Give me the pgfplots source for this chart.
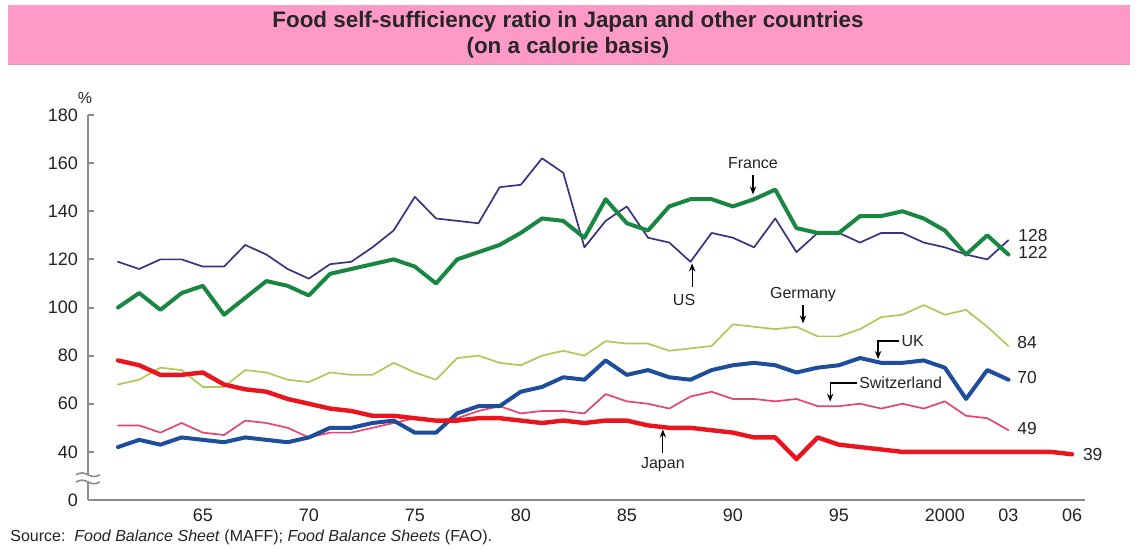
\documentclass[border=0pt]{standalone}
\usepackage{fontspec}
\setmainfont{Liberation Sans}
\usepackage{pgfplots}
\pgfplotsset{compat=1.18}
\usetikzlibrary{arrows.meta}

\definecolor{band}{RGB}{255,153,200}
\definecolor{bandedge}{RGB}{225,150,190}
\definecolor{axisgray}{RGB}{140,140,140}
\definecolor{labgray}{RGB}{35,35,35}
\definecolor{usc}{RGB}{60,50,130}
\definecolor{frc}{RGB}{25,135,65}
\definecolor{dec}{RGB}{172,202,88}
\definecolor{ukc}{RGB}{30,78,155}
\definecolor{chc}{RGB}{228,70,112}
\definecolor{jpc}{RGB}{235,20,30}

% Self-sufficiency ratios (%), calorie basis
\pgfplotstableread{
year val
1961 119
1962 116
1963 120
1964 120
1965 117
1966 117
1967 126
1968 122
1969 116
1970 112
1971 118
1972 119
1973 125
1974 132
1975 146
1976 137
1977 136
1978 135
1979 150
1980 151
1981 162
1982 156
1983 125
1984 136
1985 142
1986 129
1987 127
1988 119
1989 131
1990 129
1991 125
1992 137
1993 123
1994 131
1995 131
1996 127
1997 131
1998 131
1999 127
2000 125
2001 122
2002 120
2003 128
}\usdata

\pgfplotstableread{
year val
1961 100
1962 106
1963 99
1964 106
1965 109
1966 97
1967 104
1968 111
1969 109
1970 105
1971 114
1972 116
1973 118
1974 120
1975 117
1976 110
1977 120
1978 123
1979 126
1980 131
1981 137
1982 136
1983 129
1984 145
1985 135
1986 132
1987 142
1988 145
1989 145
1990 142
1991 145
1992 149
1993 133
1994 131
1995 131
1996 138
1997 138
1998 140
1999 137
2000 132
2001 122
2002 130
2003 122
}\frdata

\pgfplotstableread{
year val
1961 68
1962 70
1963 75
1964 74
1965 67
1966 67
1967 74
1968 73
1969 70
1970 69
1971 73
1972 72
1973 72
1974 77
1975 73
1976 70
1977 79
1978 80
1979 77
1980 76
1981 80
1982 82
1983 80
1984 86
1985 85
1986 85
1987 82
1988 83
1989 84
1990 93
1991 92
1992 91
1993 92
1994 88
1995 88
1996 91
1997 96
1998 97
1999 101
2000 97
2001 99
2002 92
2003 84
}\dedata

\pgfplotstableread{
year val
1961 42
1962 45
1963 43
1964 46
1965 45
1966 44
1967 46
1968 45
1969 44
1970 46
1971 50
1972 50
1973 52
1974 53
1975 48
1976 48
1977 56
1978 59
1979 59
1980 65
1981 67
1982 71
1983 70
1984 78
1985 72
1986 74
1987 71
1988 70
1989 74
1990 76
1991 77
1992 76
1993 73
1994 75
1995 76
1996 79
1997 77
1998 77
1999 78
2000 75
2001 62
2002 74
2003 70
}\ukdata

\pgfplotstableread{
year val
1961 51
1962 51
1963 48
1964 52
1965 48
1966 47
1967 53
1968 52
1969 50
1970 46
1971 48
1972 48
1973 50
1974 52
1975 54
1976 53
1977 54
1978 57
1979 59
1980 56
1981 57
1982 57
1983 56
1984 64
1985 61
1986 60
1987 58
1988 63
1989 65
1990 62
1991 62
1992 61
1993 62
1994 59
1995 59
1996 60
1997 58
1998 60
1999 58
2000 61
2001 55
2002 54
2003 49
}\chdata

\pgfplotstableread{
year val
1961 78
1962 76
1963 72
1964 72
1965 73
1966 68
1967 66
1968 65
1969 62
1970 60
1971 58
1972 57
1973 55
1974 55
1975 54
1976 53
1977 53
1978 54
1979 54
1980 53
1981 52
1982 53
1983 52
1984 53
1985 53
1986 51
1987 50
1988 50
1989 49
1990 48
1991 46
1992 46
1993 37
1994 46
1995 43
1996 42
1997 41
1998 40
1999 40
2000 40
2001 40
2002 40
2003 40
2004 40
2005 40
2006 39
}\jpdata

\begin{document}
\begin{tikzpicture}
\useasboundingbox (0,0) rectangle (568pt,274pt);
\fill[white] (0,0) rectangle (568pt,274pt);

% title band
\fill[band] (4pt,241.5pt) rectangle (565pt,271.5pt);
\draw[bandedge, line width=0.8pt] (4pt,241.7pt) -- (565pt,241.7pt);
\node[font=\fontsize{11.2}{13}\selectfont\bfseries, text=black!85, align=center]
  at (284pt,256.5pt) {Food self-sufficiency ratio in Japan and other countries\\(on a calorie basis)};

\begin{axis}[
  at={(44pt,24pt)}, anchor=south west,
  scale only axis, width=498.5pt, height=192.5pt,
  xmin=1959.585, xmax=2006.61, ymin=20, ymax=180,
  axis lines=left,
  axis line style={draw=axisgray, line width=1pt, -},
  xtick={1965,1970,1975,1980,1985,1990,1995,2000,2003,2006},
  xticklabels={65,70,75,80,85,90,95,2000,03,06},
  ytick={20,40,60,80,100,120,140,160,180},
  yticklabels={0,40,60,80,100,120,140,160,180},
  tick align=inside, major tick length=3pt,
  x tick style={draw=none},
  y tick style={draw=axisgray, line width=1pt},
  tick label style={font=\fontsize{9}{10}\selectfont, text=labgray},
  yticklabel style={xshift=-1.5pt},
  xticklabel style={yshift=-1pt},
  /pgf/number format/assume math mode=true,
  clip=false,
  every axis plot/.append style={line join=round, line cap=round},
]
\addplot[usc, line width=0.85pt] table[x=year, y=val] {\usdata};
\addplot[dec, line width=0.85pt] table[x=year, y=val] {\dedata};
\addplot[chc, line width=0.85pt] table[x=year, y=val] {\chdata};
\addplot[frc, line width=2pt] table[x=year, y=val] {\frdata};
\addplot[ukc, line width=2pt] table[x=year, y=val] {\ukdata};
\addplot[jpc, line width=2.2pt] table[x=year, y=val] {\jpdata};

% country labels with pointers
\begin{scope}[font=\fontsize{8}{9}\selectfont, text=labgray]
\node at (axis cs:1990.95,160.1) {France};
\draw[line width=0.6pt, -{Stealth[length=4pt,width=3.2pt]}] (axis cs:1990.95,155) -- (axis cs:1990.95,147);
\node at (axis cs:1987.7,103.1) {US};
\draw[line width=0.6pt, -{Stealth[length=4pt,width=3.2pt]}] (axis cs:1988.08,108.5) -- (axis cs:1988.08,118.3);
\node at (axis cs:1993.31,105.2) {Germany};
\draw[line width=0.6pt, -{Stealth[length=4pt,width=3.2pt]}] (axis cs:1993.31,101) -- (axis cs:1993.31,93.4);
\node[anchor=west, inner sep=1pt] at (axis cs:1997.85,86.1) {UK};
\draw[line width=0.6pt, -{Stealth[length=4pt,width=3.2pt]}] (axis cs:1997.85,86.1) -- (axis cs:1996.85,86.1) -- (axis cs:1996.85,78.6);
\node[anchor=west, inner sep=1pt] at (axis cs:1995.85,68.6) {Switzerland};
\draw[line width=0.6pt, -{Stealth[length=4pt,width=3.2pt]}] (axis cs:1995.85,68.6) -- (axis cs:1994.59,68.6) -- (axis cs:1994.59,60.9);
\node at (axis cs:1986.7,34.5) {Japan};
\draw[line width=0.6pt, -{Stealth[length=4pt,width=3.2pt]}] (axis cs:1986.7,39.5) -- (axis cs:1986.7,49.3);
\end{scope}

% end values
\begin{scope}[font=\fontsize{8.7}{10}\selectfont, text=labgray]
\node[anchor=west, inner sep=0pt] at (axis cs:2003.45,130) {128};
\node[anchor=west, inner sep=0pt] at (axis cs:2003.45,122.7) {122};
\node[anchor=west, inner sep=0pt] at (axis cs:2003.4,85.3) {84};
\node[anchor=west, inner sep=0pt] at (axis cs:2003.4,71.1) {70};
\node[anchor=west, inner sep=0pt] at (axis cs:2003.4,49.9) {49};
\node[anchor=west, inner sep=0pt] at (axis cs:2006.5,39.1) {39};
\end{scope}

\coordinate (brk) at (axis cs:1959.585,29);
\coordinate (ytop) at (axis cs:1959.585,180);
\end{axis}

% axis break
\fill[white] ([shift={(-1.5pt,-1.8pt)}]brk) rectangle ([shift={(1.5pt,1.8pt)}]brk);
\draw[axisgray, line width=0.8pt] ([shift={(-6pt,1.8pt)}]brk) sin ++(3pt,0.9pt) cos ++(3pt,-0.9pt) sin ++(3pt,-0.9pt) cos ++(3pt,0.9pt);
\draw[axisgray, line width=0.8pt] ([shift={(-6pt,-1.8pt)}]brk) sin ++(3pt,0.9pt) cos ++(3pt,-0.9pt) sin ++(3pt,-0.9pt) cos ++(3pt,0.9pt);

% unit
\node[font=\fontsize{8}{9}\selectfont, text=labgray] at ([shift={(-1.5pt,8.5pt)}]ytop) {\%};

% source line
\node[anchor=west, inner sep=0pt, font=\fontsize{8}{9}\selectfont, text=labgray] at (5pt,5.5pt)
  {Source:\ \ \textit{Food Balance Sheet} (MAFF); \textit{Food Balance Sheets} (FAO).};
\end{tikzpicture}
\end{document}
